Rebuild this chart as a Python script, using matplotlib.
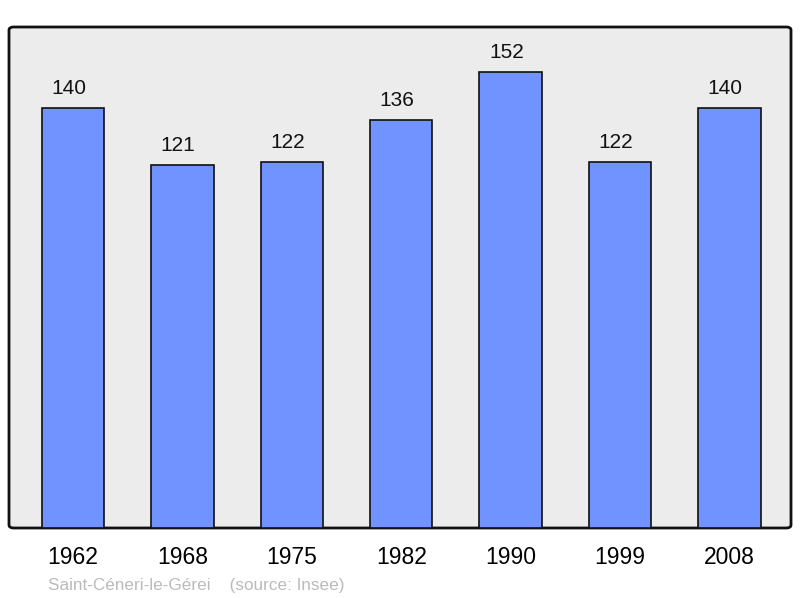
import matplotlib.pyplot as plt
from matplotlib.patches import FancyBboxPatch

plt.rcParams["font.family"] = ["Liberation Sans", "DejaVu Sans"]

annees = ["1962", "1968", "1975", "1982", "1990", "1999", "2008"]
population = [140, 121, 122, 136, 152, 122, 140]

fig = plt.figure(figsize=(8, 5.98), dpi=100)
ax = fig.add_axes([9 / 800, 70 / 598, 782 / 800, 501 / 598])
ax.set_facecolor("none")

# cadre arrondi
cadre = FancyBboxPatch((0, 0), 1, 1, boxstyle="round,pad=0,rounding_size=0.006",
                       transform=ax.transAxes, facecolor="#ececec",
                       edgecolor="#111111", linewidth=2, zorder=0, clip_on=False)
ax.add_patch(cadre)

pos = range(len(annees))
barres = ax.bar(pos, population, width=0.57, color="#7093ff",
                edgecolor="#111111", linewidth=1.2, zorder=2)

for x, v in zip(pos, population):
    ax.annotate(str(v), (x, v), xytext=(-3, 7.5), textcoords="offset points",
                ha="center", va="bottom", fontsize=15, color="#111111")

ax.set_xlim(-0.584, 6.562)
ax.set_ylim(0, 167)
for s in ax.spines.values():
    s.set_visible(False)
ax.set_yticks([])
ax.set_xticks(list(pos))
ax.set_xticklabels(annees, fontsize=16.5)
ax.tick_params(axis="x", length=0, pad=13)

fig.text(48 / 800, 5 / 598, "Saint-Céneri-le-Gérei    (source: Insee)",
         fontsize=12.3, color="#bbbbbb", ha="left", va="bottom")

fig.savefig("out.png", dpi=100)
